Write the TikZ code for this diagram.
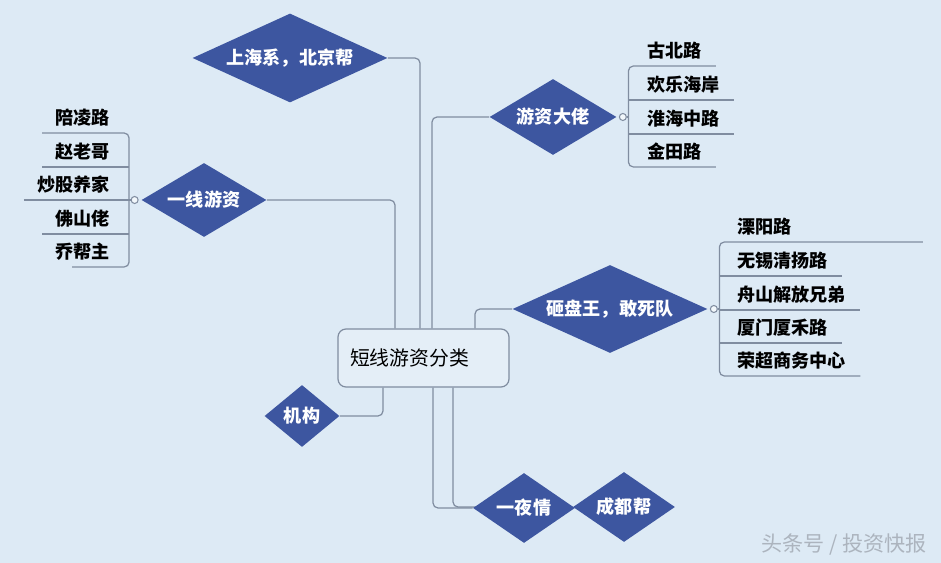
\documentclass[tikz,border=0pt]{standalone}
\usepackage{fontspec}
\newfontfamily\cjk{Noto Sans CJK SC}
\usetikzlibrary{shapes.geometric,calc,positioning}
\definecolor{bgblue}{RGB}{221,234,245}
\definecolor{dblue}{RGB}{61,86,160}
\definecolor{lgray}{RGB}{128,141,160}
\definecolor{wmgray}{RGB}{172,180,190}
\pgfdeclarelayer{back}
\pgfdeclarelayer{lines}
\pgfsetlayers{back,lines,main}

\begin{document}
\begin{tikzpicture}[x=0.02cm,y=-0.02cm,
	dia/.style 2 args={diamond, aspect=2, fill=dblue, text=white, inner sep=0, minimum width=#1, minimum height=#2, font=\cjk\bfseries\fontsize{10.3}{12}\selectfont},
	leaf/.style={inner sep=0, minimum height=0.64cm, text height=10pt, text depth=1.5pt, font=\cjk\bfseries\fontsize{10.3}{12}\selectfont},
	conn/.style={draw=lgray, line width=0.7pt, rounded corners=0.1cm},
	knob/.style={circle, draw=lgray, fill=white!60!bgblue, line width=0.6pt, inner sep=0, minimum size=0.14cm}]
			\begin{pgfonlayer}{back}
			\fill[bgblue] (0,0) rectangle (941,563);
			\end{pgfonlayer}
			\node[draw=lgray, fill=white!20!bgblue, rounded corners=0.16cm, line width=0.7pt, minimum width=3.42cm, minimum height=1.16cm, text width=2.94cm, inner xsep=0.24cm, align=left, font=\cjk\fontsize{11.3}{13}\selectfont] (root) at (423.5,358) {短线游资分类};
			\node[dia={3.9cm}{1.78cm}] (shbj) at (290,58) {上海系，北京帮};
			\node[dia={2.5cm}{1.48cm}] (yxyz) at (204,200) {一线游资};
			\node[dia={2.54cm}{1.52cm}] (yzdl) at (553,117) {游资大佬};
			\node[dia={3.9cm}{1.76cm}] (zpw) at (610,309) {砸盘王，敢死队};
			\node[dia={1.5cm}{1.24cm}] (jg) at (302,416) {机构};
			\node[dia={2.04cm}{1.4cm}] (yyq) at (524,508) {一夜情};
			\node[dia={2.04cm}{1.4cm}] (cdb) at (624,507) {成都帮};
			\begin{pgfonlayer}{lines}
			\draw[conn] (shbj.east) -| ($(root.north)+(-3.5,0)$);
			\draw[conn] (yxyz.east) -| ($(root.north)+(-28.5,0)$);
			\draw[conn] (yzdl.west) -| ($(root.north)+(8.5,0)$);
			\draw[conn] (zpw.west) -| ($(root.north)+(51.5,0)$);
			\draw[conn] (jg.east) -| ($(root.south)+(-40.5,0)$);
			\draw[conn] ($(root.south)+(9.5,0)$) |- (yyq.west);
			\draw[conn] ($(root.south)+(29.5,0)$) |- (cdb.west);
			\end{pgfonlayer}
			\node[knob, left=0.05cm of yxyz] (lk) {};
			\node[knob, right=0.04cm of yzdl] (rka) {};
			\node[knob, right=0.04cm of zpw] (rkb) {};
			\coordinate (lbar) at ([xshift=-0.03cm]lk.west);
			\coordinate (rbara) at ([xshift=0.03cm]rka.east);
			\coordinate (rbarb) at ([xshift=0.03cm]rkb.east);
			\node[leaf, anchor=south east] (pll) at (110,133) {陪凌路};
			\node[leaf, anchor=south east] (zlg) at (110,167) {赵老哥};
			\node[leaf, anchor=south east] (cgyj) at (110,200) {炒股养家};
			\node[leaf, anchor=south east] (fsl) at (110,234) {佛山佬};
			\node[leaf, anchor=south east] (qbz) at (110,267) {乔帮主};
			\draw[conn] (lk.west) -- (lbar);
			\draw[conn] ([xshift=-0.26cm]pll.south west) -- (pll.south -| lbar) -- (qbz.south -| lbar) -- ([xshift=0.34cm]qbz.south west);
			\draw[conn] ([xshift=-0.26cm]zlg.south west) -- (zlg.south -| lbar);
			\draw[conn] ([xshift=-0.26cm]cgyj.south west) -- (cgyj.south -| lbar);
			\draw[conn] ([xshift=-0.26cm]fsl.south west) -- (fsl.south -| lbar);
			\node[leaf, anchor=south west] (gbl) at (647,66) {古北路};
			\node[leaf, anchor=south west] (hlha) at (647,100) {欢乐海岸};
			\node[leaf, anchor=south west] (hhzl) at (647,134) {淮海中路};
			\node[leaf, anchor=south west] (jtl) at (647,167) {金田路};
			\draw[conn] (rka.east) -- (rbara);
			\draw[conn] ([xshift=0.28cm]gbl.south east) -- (gbl.south -| rbara) -- (jtl.south -| rbara) -- ([xshift=0.28cm]jtl.south east);
			\draw[conn] (hlha.south -| rbara) -- ([xshift=0.28cm]hlha.south east);
			\draw[conn] (hhzl.south -| rbara) -- ([xshift=0.28cm]hhzl.south east);
			\node[leaf, anchor=south west] (lyl) at (737,242) {溧阳路};
			\node[leaf, anchor=south west] (wxqyl) at (737,276) {无锡清扬路};
			\node[leaf, anchor=south west] (zsjf) at (737,310) {舟山解放兄弟};
			\node[leaf, anchor=south west] (xmxhl) at (737,343) {厦门厦禾路};
			\node[leaf, anchor=south west] (rcsw) at (737,376) {荣超商务中心};
			\draw[conn] (rkb.east) -- (rbarb);
			\draw[conn] ([xshift=2.62cm]lyl.south east) -- (lyl.south -| rbarb) -- (rcsw.south -| rbarb) -- ([xshift=0.28cm]rcsw.south east);
			\draw[conn] (wxqyl.south -| rbarb) -- ([xshift=0.28cm]wxqyl.south east);
			\draw[conn] (zsjf.south -| rbarb) -- ([xshift=0.28cm]zsjf.south east);
			\draw[conn] (xmxhl.south -| rbarb) -- ([xshift=0.28cm]xmxhl.south east);
			\node[anchor=east, inner sep=0, text=wmgray, font=\cjk\fontsize{12}{14}\selectfont] (wm) at (927,545) {头条号 / 投资快报};
		\end{tikzpicture}
\end{document}
